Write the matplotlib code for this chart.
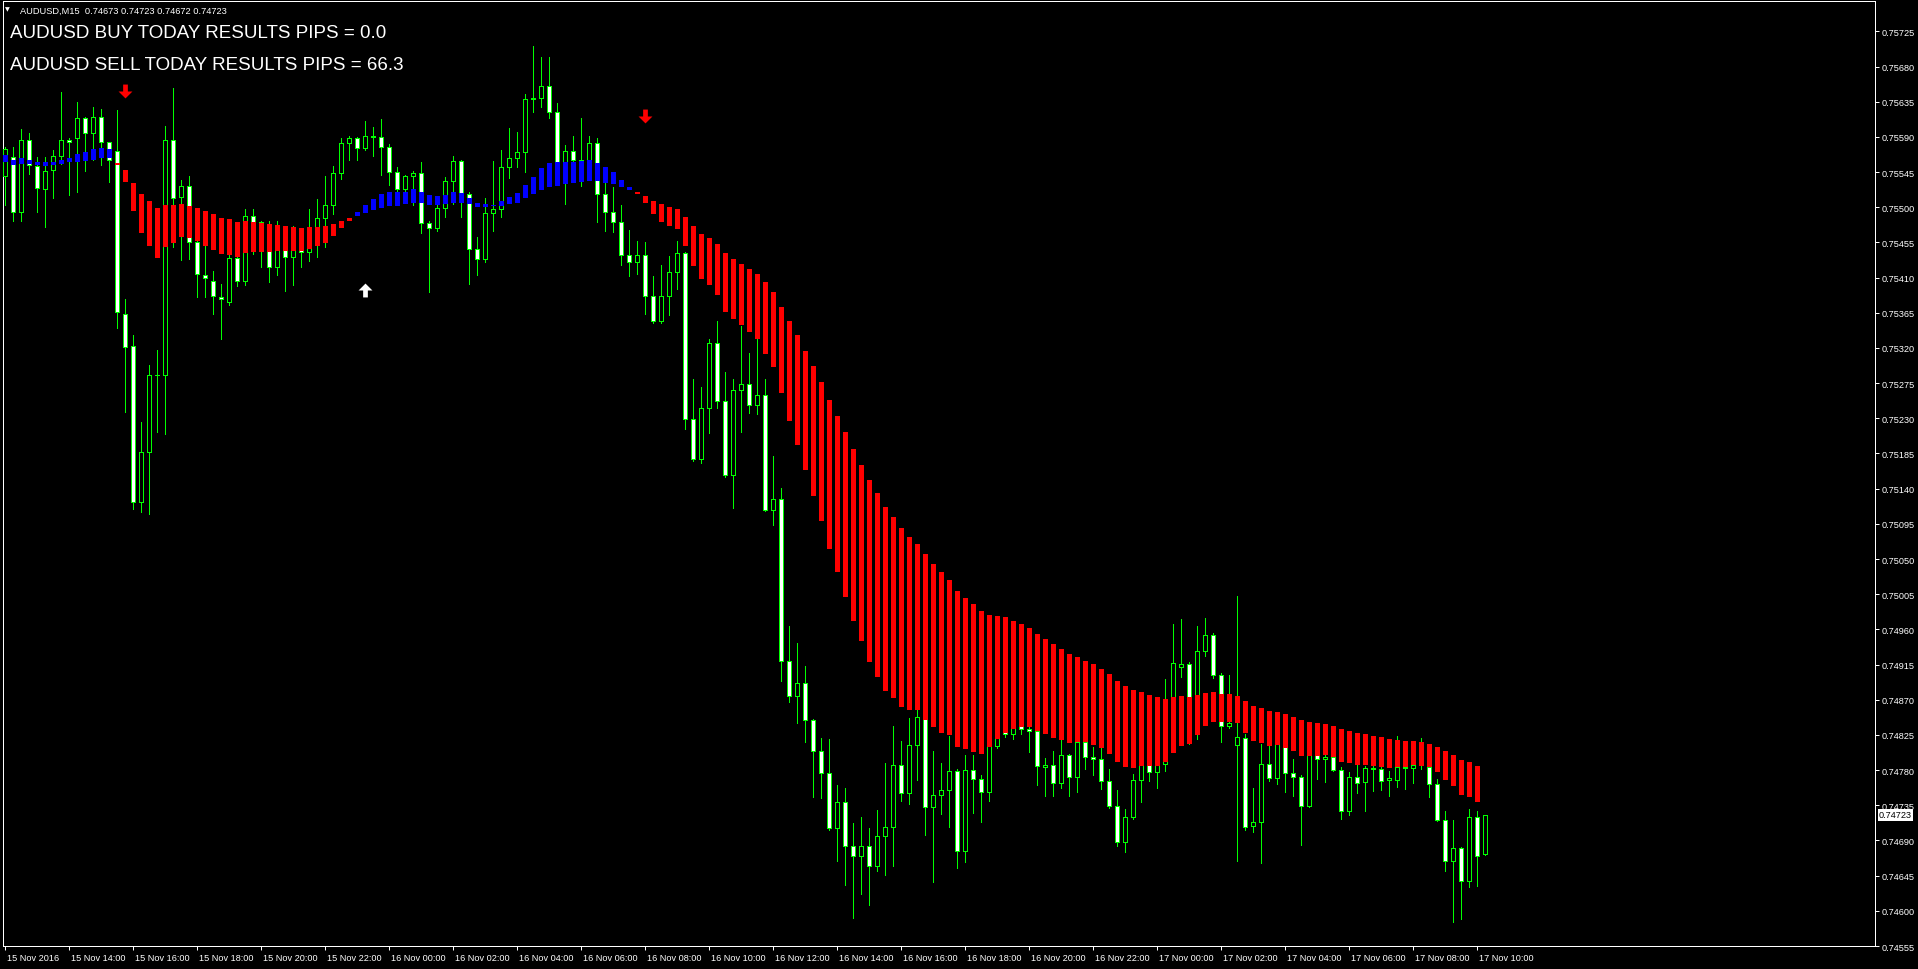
import numpy as np
import matplotlib
matplotlib.use("Agg")
import matplotlib.pyplot as plt
from matplotlib.path import Path
from matplotlib.transforms import blended_transform_factory, ScaledTranslation

plt.rcParams['font.family'] = ['Liberation Sans', 'DejaVu Sans']

# AUDUSD M15 bars, 15 Nov 2016 12:00 -> 17 Nov 2016 10:15
opens = [
    0.75540, 0.75564, 0.75494, 0.75586, 0.75553, 0.75523, 0.75548, 0.75565, 0.75586, 0.75588,
    0.75614, 0.75595, 0.75615, 0.75583, 0.75572, 0.75364, 0.75322, 0.75123, 0.75187, 0.75285,
    0.75285, 0.75586, 0.75513, 0.75527, 0.75455, 0.75413, 0.75406, 0.75385, 0.75379, 0.75435,
    0.75406, 0.75489, 0.75481, 0.75446, 0.75423, 0.75453, 0.75436, 0.75446, 0.75443, 0.75469,
    0.75486, 0.75503, 0.75544, 0.75582, 0.75588, 0.75576, 0.75591, 0.75590, 0.75577, 0.75545,
    0.75523, 0.75540, 0.75544, 0.75480, 0.75473, 0.75499, 0.75533, 0.75559, 0.75517, 0.75446,
    0.75434, 0.75492, 0.75498, 0.75551, 0.75563, 0.75571, 0.75638, 0.75640, 0.75655, 0.75622,
    0.75558, 0.75572, 0.75561, 0.75561, 0.75582, 0.75517, 0.75494, 0.75481, 0.75439, 0.75430,
    0.75439, 0.75386, 0.75354, 0.75386, 0.75417, 0.75441, 0.75229, 0.75178, 0.75243, 0.75326,
    0.75252, 0.75157, 0.75266, 0.75274, 0.75247, 0.75260, 0.75113, 0.75127, 0.74920, 0.74875,
    0.74892, 0.74844, 0.74804, 0.74776, 0.74706, 0.74739, 0.74683, 0.74670, 0.74683, 0.74657,
    0.74696, 0.74707, 0.74786, 0.74751, 0.74812, 0.74848, 0.74733, 0.74748, 0.74755, 0.74779,
    0.74677, 0.74780, 0.74768, 0.74752, 0.74811, 0.74845, 0.74826, 0.74839, 0.74832, 0.74830,
    0.74784, 0.74786, 0.74764, 0.74799, 0.74771, 0.74816, 0.74797, 0.74794, 0.74766, 0.74734,
    0.74688, 0.74720, 0.74767, 0.74801, 0.74778, 0.74788, 0.74845, 0.74912, 0.74916, 0.74865,
    0.74932, 0.74953, 0.74902, 0.74836, 0.74812, 0.74821, 0.74709, 0.74714, 0.74788, 0.74770,
    0.74820, 0.74776, 0.74771, 0.74734, 0.74804, 0.74794, 0.74797, 0.74780, 0.74728, 0.74771,
    0.74765, 0.74783, 0.74781, 0.74767, 0.74767, 0.74784, 0.74783, 0.74786, 0.74784, 0.74762,
    0.74716, 0.74664, 0.74680, 0.74638, 0.74720, 0.74673]
highs = [
    0.75577, 0.75577, 0.75600, 0.75595, 0.75564, 0.75564, 0.75573, 0.75648, 0.75588, 0.75634,
    0.75616, 0.75628, 0.75625, 0.75584, 0.75624, 0.75382, 0.75336, 0.75225, 0.75298, 0.75317,
    0.75604, 0.75652, 0.75535, 0.75540, 0.75457, 0.75453, 0.75418, 0.75402, 0.75443, 0.75438,
    0.75498, 0.75498, 0.75483, 0.75482, 0.75483, 0.75476, 0.75476, 0.75469, 0.75498, 0.75510,
    0.75540, 0.75553, 0.75588, 0.75591, 0.75590, 0.75610, 0.75603, 0.75613, 0.75581, 0.75551,
    0.75541, 0.75546, 0.75558, 0.75482, 0.75504, 0.75539, 0.75565, 0.75560, 0.75519, 0.75462,
    0.75512, 0.75559, 0.75573, 0.75601, 0.75596, 0.75645, 0.75706, 0.75692, 0.75692, 0.75633,
    0.75579, 0.75591, 0.75614, 0.75591, 0.75588, 0.75532, 0.75526, 0.75503, 0.75471, 0.75457,
    0.75455, 0.75412, 0.75426, 0.75438, 0.75457, 0.75443, 0.75280, 0.75270, 0.75332, 0.75354,
    0.75289, 0.75280, 0.75348, 0.75314, 0.75332, 0.75280, 0.75182, 0.75141, 0.74964, 0.74943,
    0.74913, 0.74846, 0.74821, 0.74820, 0.74761, 0.74757, 0.74712, 0.74720, 0.74706, 0.74729,
    0.74789, 0.74836, 0.74817, 0.74847, 0.74857, 0.74850, 0.74804, 0.74789, 0.74824, 0.74781,
    0.74799, 0.74799, 0.74774, 0.74815, 0.74865, 0.74856, 0.74848, 0.74850, 0.74856, 0.74842,
    0.74795, 0.74804, 0.74819, 0.74800, 0.74816, 0.74826, 0.74810, 0.74810, 0.74782, 0.74755,
    0.74730, 0.74775, 0.74813, 0.74807, 0.74801, 0.74896, 0.74967, 0.74973, 0.74918, 0.74964,
    0.74975, 0.74955, 0.74904, 0.74902, 0.75003, 0.74826, 0.74757, 0.74813, 0.74811, 0.74833,
    0.74820, 0.74794, 0.74774, 0.74813, 0.74810, 0.74804, 0.74807, 0.74784, 0.74778, 0.74788,
    0.74785, 0.74785, 0.74786, 0.74779, 0.74824, 0.74794, 0.74794, 0.74821, 0.74792, 0.74769,
    0.74728, 0.74716, 0.74682, 0.74730, 0.74728, 0.74723]
lows = [
    0.75503, 0.75482, 0.75482, 0.75542, 0.75494, 0.75475, 0.75512, 0.75555, 0.75515, 0.75520,
    0.75546, 0.75561, 0.75554, 0.75532, 0.75345, 0.75238, 0.75114, 0.75110, 0.75108, 0.75212,
    0.75210, 0.75449, 0.75432, 0.75434, 0.75385, 0.75385, 0.75363, 0.75331, 0.75375, 0.75399,
    0.75400, 0.75440, 0.75423, 0.75404, 0.75413, 0.75393, 0.75400, 0.75423, 0.75431, 0.75436,
    0.75449, 0.75491, 0.75536, 0.75561, 0.75561, 0.75573, 0.75565, 0.75541, 0.75528, 0.75519,
    0.75520, 0.75503, 0.75467, 0.75391, 0.75469, 0.75487, 0.75504, 0.75487, 0.75402, 0.75413,
    0.75430, 0.75469, 0.75487, 0.75537, 0.75551, 0.75545, 0.75622, 0.75628, 0.75614, 0.75556,
    0.75504, 0.75558, 0.75527, 0.75560, 0.75481, 0.75469, 0.75468, 0.75426, 0.75412, 0.75414,
    0.75364, 0.75352, 0.75352, 0.75362, 0.75396, 0.75216, 0.75175, 0.75173, 0.75211, 0.75243,
    0.75155, 0.75115, 0.75212, 0.75237, 0.75236, 0.75111, 0.75094, 0.74894, 0.74867, 0.74840,
    0.74816, 0.74746, 0.74744, 0.74704, 0.74664, 0.74633, 0.74591, 0.74621, 0.74607, 0.74651,
    0.74646, 0.74657, 0.74740, 0.74737, 0.74767, 0.74697, 0.74637, 0.74724, 0.74707, 0.74655,
    0.74662, 0.74725, 0.74714, 0.74740, 0.74808, 0.74822, 0.74820, 0.74826, 0.74803, 0.74761,
    0.74747, 0.74747, 0.74757, 0.74747, 0.74752, 0.74782, 0.74774, 0.74756, 0.74732, 0.74683,
    0.74675, 0.74717, 0.74739, 0.74766, 0.74757, 0.74779, 0.74807, 0.74899, 0.74813, 0.74820,
    0.74926, 0.74898, 0.74816, 0.74834, 0.74664, 0.74704, 0.74701, 0.74661, 0.74766, 0.74762,
    0.74752, 0.74747, 0.74684, 0.74733, 0.74768, 0.74765, 0.74779, 0.74717, 0.74723, 0.74751,
    0.74728, 0.74753, 0.74755, 0.74747, 0.74758, 0.74756, 0.74763, 0.74782, 0.74745, 0.74715,
    0.74651, 0.74586, 0.74590, 0.74631, 0.74632, 0.74672]
closes = [
    0.75574, 0.75494, 0.75586, 0.75554, 0.75524, 0.75546, 0.75565, 0.75586, 0.75584, 0.75614,
    0.75595, 0.75616, 0.75584, 0.75561, 0.75366, 0.75321, 0.75123, 0.75187, 0.75285, 0.75285,
    0.75586, 0.75512, 0.75527, 0.75455, 0.75414, 0.75409, 0.75386, 0.75382, 0.75435, 0.75406,
    0.75489, 0.75481, 0.75446, 0.75423, 0.75453, 0.75436, 0.75446, 0.75443, 0.75469, 0.75486,
    0.75503, 0.75544, 0.75582, 0.75588, 0.75576, 0.75591, 0.75590, 0.75577, 0.75545, 0.75523,
    0.75540, 0.75544, 0.75480, 0.75473, 0.75499, 0.75533, 0.75559, 0.75517, 0.75446, 0.75434,
    0.75492, 0.75498, 0.75551, 0.75563, 0.75571, 0.75638, 0.75640, 0.75655, 0.75622, 0.75558,
    0.75572, 0.75561, 0.75561, 0.75582, 0.75517, 0.75494, 0.75481, 0.75439, 0.75430, 0.75439,
    0.75386, 0.75354, 0.75386, 0.75417, 0.75441, 0.75229, 0.75178, 0.75243, 0.75326, 0.75252,
    0.75157, 0.75266, 0.75274, 0.75247, 0.75260, 0.75113, 0.75127, 0.74920, 0.74875, 0.74892,
    0.74844, 0.74804, 0.74776, 0.74706, 0.74739, 0.74683, 0.74670, 0.74683, 0.74657, 0.74696,
    0.74707, 0.74786, 0.74751, 0.74812, 0.74848, 0.74733, 0.74748, 0.74755, 0.74779, 0.74677,
    0.74780, 0.74768, 0.74752, 0.74811, 0.74845, 0.74826, 0.74839, 0.74832, 0.74830, 0.74785,
    0.74786, 0.74764, 0.74799, 0.74771, 0.74816, 0.74797, 0.74794, 0.74766, 0.74734, 0.74688,
    0.74720, 0.74767, 0.74801, 0.74778, 0.74788, 0.74845, 0.74917, 0.74916, 0.74865, 0.74932,
    0.74953, 0.74902, 0.74836, 0.74840, 0.74822, 0.74707, 0.74714, 0.74788, 0.74770, 0.74820,
    0.74776, 0.74771, 0.74734, 0.74804, 0.74794, 0.74797, 0.74780, 0.74728, 0.74771, 0.74764,
    0.74783, 0.74781, 0.74766, 0.74770, 0.74784, 0.74783, 0.74786, 0.74786, 0.74762, 0.74716,
    0.74664, 0.74680, 0.74638, 0.74720, 0.74670, 0.74723]

# smoothed trend histogram (upper / lower edge of each block)
ind_hi = [
    0.75567, 0.75560, 0.75563, 0.75561, 0.75558, 0.75558, 0.75558, 0.75560, 0.75563, 0.75568,
    0.75571, 0.75574, 0.75576, 0.75574, 0.75556, 0.75548, 0.75531, 0.75517, 0.75508, 0.75499,
    0.75503, 0.75503, 0.75504, 0.75501, 0.75499, 0.75495, 0.75491, 0.75486, 0.75485, 0.75481,
    0.75482, 0.75481, 0.75480, 0.75478, 0.75477, 0.75476, 0.75475, 0.75473, 0.75475, 0.75475,
    0.75476, 0.75478, 0.75482, 0.75486, 0.75494, 0.75503, 0.75510, 0.75517, 0.75519, 0.75519,
    0.75520, 0.75523, 0.75519, 0.75515, 0.75514, 0.75515, 0.75519, 0.75518, 0.75512, 0.75505,
    0.75504, 0.75503, 0.75508, 0.75513, 0.75518, 0.75528, 0.75539, 0.75550, 0.75556, 0.75558,
    0.75558, 0.75558, 0.75559, 0.75560, 0.75556, 0.75551, 0.75545, 0.75535, 0.75526, 0.75519,
    0.75514, 0.75508, 0.75504, 0.75500, 0.75498, 0.75487, 0.75476, 0.75466, 0.75460, 0.75453,
    0.75441, 0.75434, 0.75427, 0.75421, 0.75414, 0.75404, 0.75391, 0.75373, 0.75354, 0.75336,
    0.75316, 0.75297, 0.75276, 0.75253, 0.75233, 0.75212, 0.75191, 0.75170, 0.75151, 0.75134,
    0.75117, 0.75104, 0.75090, 0.75078, 0.75069, 0.75056, 0.75044, 0.75033, 0.75023, 0.75009,
    0.75000, 0.74992, 0.74983, 0.74978, 0.74977, 0.74976, 0.74971, 0.74967, 0.74962, 0.74954,
    0.74948, 0.74941, 0.74935, 0.74929, 0.74925, 0.74920, 0.74916, 0.74909, 0.74903, 0.74894,
    0.74888, 0.74882, 0.74880, 0.74876, 0.74873, 0.74871, 0.74873, 0.74875, 0.74873, 0.74876,
    0.74878, 0.74880, 0.74877, 0.74877, 0.74875, 0.74868, 0.74862, 0.74859, 0.74856, 0.74854,
    0.74852, 0.74848, 0.74844, 0.74842, 0.74840, 0.74839, 0.74836, 0.74833, 0.74830, 0.74827,
    0.74826, 0.74824, 0.74822, 0.74820, 0.74819, 0.74817, 0.74817, 0.74816, 0.74813, 0.74810,
    0.74804, 0.74799, 0.74793, 0.74790, 0.74785]
ind_lo = [
    0.75558, 0.75554, 0.75555, 0.75555, 0.75554, 0.75553, 0.75554, 0.75555, 0.75558, 0.75558,
    0.75559, 0.75561, 0.75563, 0.75563, 0.75554, 0.75532, 0.75495, 0.75467, 0.75450, 0.75435,
    0.75449, 0.75454, 0.75462, 0.75460, 0.75457, 0.75451, 0.75445, 0.75440, 0.75439, 0.75436,
    0.75441, 0.75443, 0.75443, 0.75443, 0.75444, 0.75444, 0.75444, 0.75444, 0.75446, 0.75450,
    0.75454, 0.75463, 0.75473, 0.75483, 0.75489, 0.75492, 0.75496, 0.75499, 0.75501, 0.75501,
    0.75504, 0.75505, 0.75505, 0.75503, 0.75503, 0.75504, 0.75505, 0.75506, 0.75504, 0.75500,
    0.75500, 0.75501, 0.75501, 0.75504, 0.75506, 0.75512, 0.75517, 0.75522, 0.75526, 0.75527,
    0.75530, 0.75531, 0.75532, 0.75533, 0.75533, 0.75531, 0.75530, 0.75526, 0.75522, 0.75517,
    0.75505, 0.75491, 0.75481, 0.75476, 0.75472, 0.75450, 0.75425, 0.75408, 0.75400, 0.75388,
    0.75366, 0.75357, 0.75349, 0.75340, 0.75332, 0.75312, 0.75296, 0.75262, 0.75227, 0.75196,
    0.75164, 0.75131, 0.75099, 0.75063, 0.75033, 0.75002, 0.74971, 0.74945, 0.74918, 0.74899,
    0.74881, 0.74872, 0.74861, 0.74857, 0.74857, 0.74844, 0.74835, 0.74827, 0.74825, 0.74810,
    0.74807, 0.74803, 0.74801, 0.74810, 0.74820, 0.74827, 0.74833, 0.74835, 0.74835, 0.74830,
    0.74826, 0.74821, 0.74819, 0.74815, 0.74816, 0.74816, 0.74812, 0.74808, 0.74801, 0.74790,
    0.74784, 0.74783, 0.74785, 0.74785, 0.74785, 0.74790, 0.74802, 0.74811, 0.74813, 0.74825,
    0.74836, 0.74842, 0.74842, 0.74842, 0.74840, 0.74827, 0.74817, 0.74815, 0.74811, 0.74812,
    0.74808, 0.74804, 0.74798, 0.74798, 0.74798, 0.74799, 0.74797, 0.74790, 0.74789, 0.74786,
    0.74786, 0.74785, 0.74784, 0.74783, 0.74784, 0.74784, 0.74786, 0.74785, 0.74784, 0.74778,
    0.74767, 0.74760, 0.74748, 0.74746, 0.74739]
blue_ranges = [(0, 13), (44, 78)]   # bars where the histogram is blue (up trend)

# signal arrows (bar index, price)
sell_bars = [15, 80]
sell_prices = [0.75649, 0.75617]
buy_bars = [45]
buy_prices = [0.75394]

price_ticks = [0.74555, 0.74600, 0.74645, 0.74690, 0.74735, 0.74780, 0.74825, 0.74870, 0.74915,
               0.74960, 0.75005, 0.75050, 0.75095, 0.75140, 0.75185, 0.75230, 0.75275, 0.75320,
               0.75365, 0.75410, 0.75455, 0.75500, 0.75545, 0.75590, 0.75635, 0.75680, 0.75725]
time_ticks = [0, 8, 16, 24, 32, 40, 48, 56, 64, 72, 80, 88, 96, 104, 112, 120, 128, 136,
              144, 152, 160, 168, 176, 184]
time_labels = ["15 Nov 2016", "15 Nov 14:00", "15 Nov 16:00", "15 Nov 18:00", "15 Nov 20:00",
               "15 Nov 22:00", "16 Nov 00:00", "16 Nov 02:00", "16 Nov 04:00", "16 Nov 06:00",
               "16 Nov 08:00", "16 Nov 10:00", "16 Nov 12:00", "16 Nov 14:00", "16 Nov 16:00",
               "16 Nov 18:00", "16 Nov 20:00", "16 Nov 22:00", "17 Nov 00:00", "17 Nov 02:00",
               "17 Nov 04:00", "17 Nov 06:00", "17 Nov 08:00", "17 Nov 10:00"]

symbol = "AUDUSD"
buy_pips = 0.0
sell_pips = 66.3

W, H = 1918, 970
o = np.array(opens); h = np.array(highs); l = np.array(lows); c = np.array(closes)
x = np.arange(len(c))

fig = plt.figure(figsize=(W / 100, H / 100), dpi=100, facecolor="black")
ax = fig.add_axes([3 / W, (H - 947) / H, 1872 / W, 944.7 / H])
ax.set_facecolor("black")
ax.set_xlim(-0.29, 233.7)
ax.set_ylim(0.745551, 0.757634)

green = "#00ff00"
px = 72 / 100  # one pixel in points
# candles
ax.vlines(x, l, h, colors=green, linewidth=px, antialiased=False, zorder=2)
body_lo = np.minimum(o, c)
body_hi = np.maximum(o, c)
faces = np.where(c > o, "black", "white")
ax.bar(x, body_hi - body_lo, bottom=body_lo, width=0.5, color=faces, edgecolor=green,
       linewidth=px, antialiased=False, zorder=3)

# trend histogram on top of candles
ind_x = np.arange(len(ind_hi))
ind_colors = ["#ff0000"] * len(ind_hi)
for a, b in blue_ranges:
    for i in range(a, b + 1):
        ind_colors[i] = "#0000ff"
ih = np.array(ind_hi); il = np.array(ind_lo)
ax.bar(ind_x, ih - il, bottom=il, width=0.62, color=ind_colors, linewidth=0,
       antialiased=False, zorder=4)

# arrows
down = Path([(-0.17, 0.5), (0.17, 0.5), (0.17, 0.0), (0.5, 0.0), (0.0, -0.5),
             (-0.5, 0.0), (-0.17, 0.0), (-0.17, 0.5)], closed=True)
up = Path([(vx, -vy) for vx, vy in down.vertices], closed=True)
ax.plot(sell_bars, sell_prices, linestyle="none", marker=down, markersize=10,
        color="#ff0000", markeredgewidth=0, zorder=5)
ax.plot(buy_bars, buy_prices, linestyle="none", marker=up, markersize=10,
        color="white", markeredgewidth=0, zorder=5)

# axes styling
for s in ax.spines.values():
    s.set_color("white")
    s.set_linewidth(px)
ax.yaxis.tick_right()
ax.set_yticks(price_ticks)
ax.set_yticklabels(["%.5f" % p for p in price_ticks])
ax.set_xticks(time_ticks)
ax.set_xticklabels(time_labels)
ax.tick_params(axis="both", colors="white", length=3, width=px, direction="out",
               labelsize=6.6, pad=2)
off = ScaledTranslation(2 / 100, 0, fig.dpi_scale_trans)
for lbl in ax.get_xticklabels():
    lbl.set_ha("left")
    lbl.set_transform(lbl.get_transform() + off)

# current price tag
tr = blended_transform_factory(ax.transAxes, ax.transData)
ax.text(1.0 + 4 / 1872, closes[-1], "%.5f" % closes[-1], transform=tr, ha="left",
        va="center", fontsize=6.6, color="black", zorder=10, clip_on=False,
        bbox=dict(boxstyle="square,pad=0.15", fc="white", ec="none"))

# header texts
fig.text(7.5 / W, 1 - 10 / H, "\u25bc", family=["DejaVu Sans"], fontsize=4.5,
         color="white", ha="center", va="center")
fig.text(20 / W, 1 - 11 / H, "%s,M15  %.5f %.5f %.5f %.5f" % (symbol, opens[-1], highs[-1],
         lows[-1], closes[-1]), fontsize=6.7, color="white", va="center")
fig.text(10 / W, 1 - 33 / H, "%s BUY TODAY RESULTS PIPS = %.1f" % (symbol, buy_pips),
         fontsize=13.5, color="white", va="center")
fig.text(10 / W, 1 - 65 / H, "%s SELL TODAY RESULTS PIPS = %.1f" % (symbol, sell_pips),
         fontsize=13.5, color="white", va="center")

fig.savefig("out.png", dpi=100, facecolor="black")
